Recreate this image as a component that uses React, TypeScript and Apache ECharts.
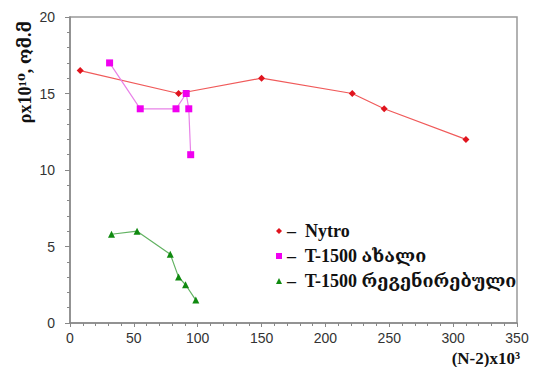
import React, { useEffect, useRef } from "react";
import * as echarts from "echarts";

const nytroX = [8, 85, 150, 221, 246, 310];
const nytroY = [16.5, 15, 16, 15, 14, 12];
const newX = [31, 55, 83, 91, 93, 94.5];
const newY = [17, 14, 14, 15, 14, 11];
const regenX = [32.5, 52.5, 78.5, 85, 90.5, 98.5];
const regenY = [5.8, 6, 4.5, 3, 2.5, 1.5];
const seriesNames = ["Nytro", "T-1500 ახალი", "T-1500 რეგენირებული"];
const yTitle = "ρx10¹⁰, ომ.მ";
const xTitle = "(N-2)x10³";

const zip = (xs: number[], ys: number[]) => xs.map((x, i) => [x, ys[i]]);

export default function App() {
  const ref = useRef<HTMLDivElement>(null);
  useEffect(() => {
    document.body.style.margin = "0";
    const chart = echarts.init(ref.current!, null, { renderer: "svg" });
    const serif = "'Liberation Serif', 'DejaVu Serif', serif";
    const sans = "'Liberation Sans', Arial, sans-serif";
    chart.setOption({
      animation: false,
      backgroundColor: "#fff",
      grid: {
        left: 70,
        right: 17,
        top: 17,
        bottom: 44,
        show: true,
        borderColor: "#999",
        borderWidth: 1.5,
      },
      legend: {
        orient: "vertical",
        left: 271,
        top: 217,
        itemGap: 7,
        itemWidth: 6,
        itemHeight: 6,
        formatter: (n: string) => "–  " + n,
        textStyle: { fontFamily: serif, fontWeight: "bold", fontSize: 18, color: "#111" },
        data: [
          { name: seriesNames[0], icon: "diamond" },
          { name: seriesNames[1], icon: "rect" },
          { name: seriesNames[2], icon: "triangle" },
        ],
      },
      xAxis: {
        type: "value",
        min: 0,
        max: 350,
        interval: 50,
        axisLine: { lineStyle: { color: "#888", width: 1.5 } },
        axisTick: { show: true, length: 4, lineStyle: { color: "#888" } },
        minorTick: { show: true, splitNumber: 5, length: 3, lineStyle: { color: "#888" } },
        splitLine: { show: false },
        axisLabel: { fontFamily: sans, fontSize: 14, color: "#333", margin: 8 },
      },
      yAxis: {
        type: "value",
        min: 0,
        max: 20,
        interval: 5,
        axisLine: { show: true, lineStyle: { color: "#888", width: 1.5 } },
        axisTick: { show: true, length: 5, lineStyle: { color: "#888" } },
        minorTick: { show: true, splitNumber: 5, length: 3, lineStyle: { color: "#888" } },
        splitLine: { show: false },
        axisLabel: { fontFamily: sans, fontSize: 14, color: "#333", margin: 15 },
      },
      graphic: [
        {
          type: "text",
          x: 25,
          y: 72,
          rotation: Math.PI / 2,
          style: {
            text: yTitle,
            fontFamily: serif,
            fontWeight: "bold",
            fontSize: 18,
            fill: "#111",
            textAlign: "center",
            textVerticalAlign: "middle",
          },
        },
        {
          type: "text",
          x: 520,
          y: 358,
          style: {
            text: xTitle,
            fontFamily: serif,
            fontWeight: "bold",
            fontSize: 17,
            fill: "#111",
            textAlign: "right",
            textVerticalAlign: "middle",
          },
        },
      ],
      series: [
        {
          name: seriesNames[0],
          type: "line",
          data: zip(nytroX, nytroY),
          symbol: "diamond",
          symbolSize: 7,
          itemStyle: { color: "#e0141e" },
          lineStyle: { color: "#f05a5a", width: 1.2 },
        },
        {
          name: seriesNames[1],
          type: "line",
          data: zip(newX, newY),
          symbol: "rect",
          symbolSize: 7,
          itemStyle: { color: "#f000f0" },
          lineStyle: { color: "#e882e8", width: 1.2 },
        },
        {
          name: seriesNames[2],
          type: "line",
          data: zip(regenX, regenY),
          symbol: "triangle",
          symbolSize: 7,
          itemStyle: { color: "#108a10" },
          lineStyle: { color: "#62b262", width: 1.2 },
        },
      ],
    });
    return () => chart.dispose();
  }, []);
  return <div ref={ref} style={{ width: 534, height: 367 }} />;
}
